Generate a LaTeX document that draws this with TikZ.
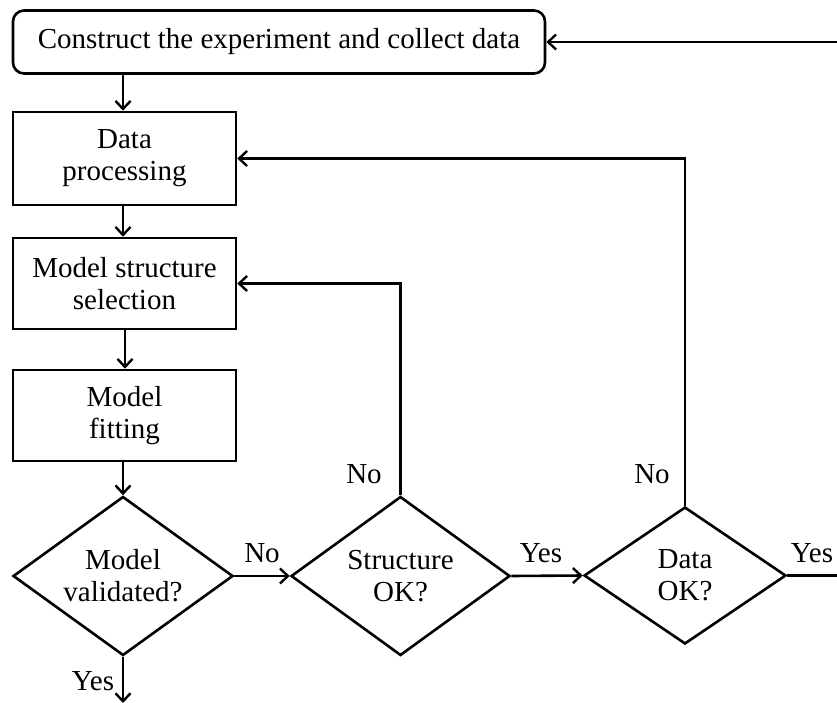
\documentclass[tikz,border=0pt]{standalone}
\usepackage{fontspec}
\setmainfont{Liberation Serif}
\usetikzlibrary{shapes.geometric,arrows.meta}
\begin{document}
\begin{tikzpicture}[x=1pt,y=-1pt,
  every node/.style={font=\fontsize{29}{32}\selectfont},
  arr/.style={line width=2.6pt, -{Straight Barb[length=8pt,width=15pt,line width=2.4pt]}},
  stepbox/.style={draw, line width=2.6pt, align=center, inner sep=0pt},
  dia/.style={draw, diamond, line width=2.6pt, inner sep=0pt},
  lbl/.style={inner sep=0pt}]
\useasboundingbox (0,0) rectangle (837,703);
\clip (0,0) rectangle (837,703);
% process boxes
\node[stepbox, rounded corners=11pt, minimum width=532pt, minimum height=63pt] (collect) at (279,42) {Construct the experiment and collect data};
\node[stepbox, minimum width=223pt, minimum height=93pt] (proc) at (124.5,158.5) {Data\\processing};
\node[stepbox, minimum width=223pt, minimum height=91pt] (msel) at (124.5,283.5) {Model structure\\selection};
\node[stepbox, minimum width=223pt, minimum height=91pt] (fit) at (124.5,415.5) {Model\\fitting};
% decisions
\node[dia, minimum width=220pt, minimum height=159pt,
  label={[align=center]center:Model\\validated?}] (valid) at (123,576) {};
\node[dia, minimum width=219pt, minimum height=159pt,
  label={[align=center]center:Structure\\OK?}] (struct) at (400.5,576) {};
\node[dia, minimum width=202pt, minimum height=137pt,
  label={[align=center]center:Data\\OK?}] (dok) at (685,575.5) {};
% free ends beyond the frame
\coordinate (out) at (123,703);
\coordinate (loop) at (860,575.5);
% main flow
\draw[arr] (collect.south -| 123,0) -- (proc.north -| 123,0);
\draw[arr] (proc.south -| 123,0) -- (msel.north -| 123,0);
\draw[arr] (msel.south -| 125,0) -- (fit.north -| 125,0);
\draw[arr] (fit.south -| 123,0) -- (valid.north);
\draw[arr] (valid.south) -- (out);
\draw[arr] (valid.east) -- (struct.west);
\draw[arr] (struct.east) -- (dok.west);
% feedback loops
\draw[arr] (struct.north) |- (msel.east);
\draw[arr] (dok.north) |- (proc.east);
\draw[arr] (dok.east) -- (loop) |- (collect.east);
% branch labels
\node[lbl] (yes1) at (93,681) {Yes};
\node[lbl] (no1) at (262,553) {No};
\node[lbl] (no2) at (364,474) {No};
\node[lbl] (yes2) at (541,553) {Yes};
\node[lbl] (no3) at (652,474) {No};
\node[lbl] (yes3) at (812,553) {Yes};
\end{tikzpicture}
\end{document}
